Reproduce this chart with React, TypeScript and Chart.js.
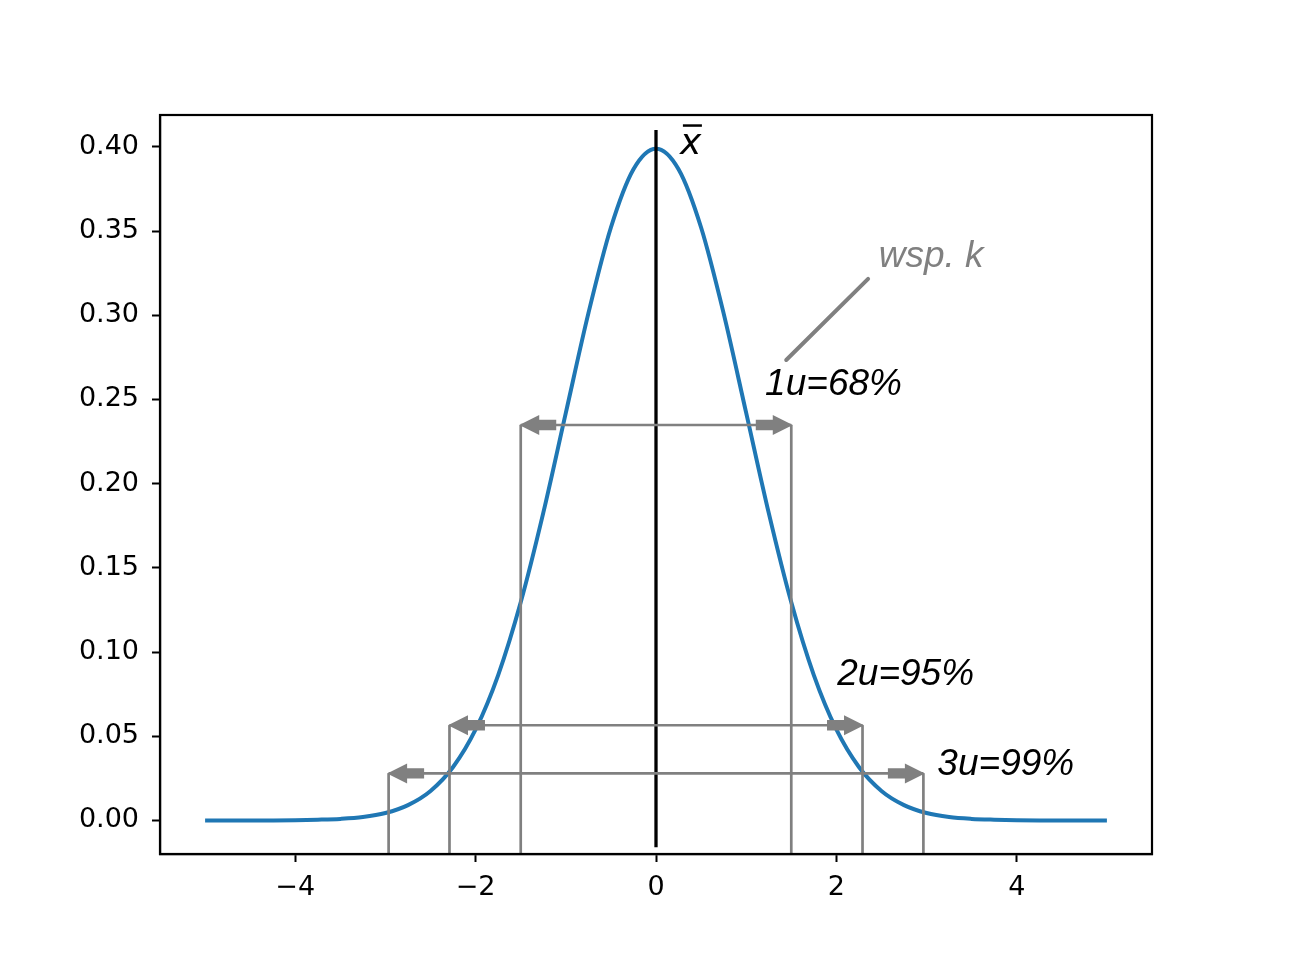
import React, { useEffect, useRef } from "react";
import { Chart, registerables } from "chart.js";

Chart.register(...registerables);

// ---- data ----
const curveX = [
  -5, -4.75, -4.5, -4.25, -4, -3.75, -3.5, -3.25, -3, -2.75, -2.5, -2.25, -2, -1.75, -1.5, -1.25, -1, -0.75, -0.5, -0.25,
  0, 0.25, 0.5, 0.75, 1, 1.25, 1.5, 1.75, 2, 2.25, 2.5, 2.75, 3, 3.25, 3.5, 3.75, 4, 4.25, 4.5, 4.75, 5,
];
const curveY = [
  0.0, 0.0, 0.0, 0.0, 0.0001, 0.0004, 0.0009, 0.002, 0.0044, 0.0091, 0.0175, 0.0317, 0.054, 0.0863, 0.1295, 0.1826, 0.242,
  0.3011, 0.3521, 0.3867, 0.3989, 0.3867, 0.3521, 0.3011, 0.242, 0.1826, 0.1295, 0.0863, 0.054, 0.0317, 0.0175, 0.0091,
  0.0044, 0.002, 0.0009, 0.0004, 0.0001, 0.0, 0.0, 0.0, 0.0,
];
const bandHalfWidths = [1.5, 2.29, 2.965];
const arrowLevels = [0.2348, 0.0565, 0.0279];
const bandLabels = ["1u=68%", "2u=95%", "3u=99%"];
const bandLabelX = [1.21, 2.01, 3.12];
const bandLabelY = [0.2526, 0.0802, 0.0267];
const meanLine = [-0.016, 0.41];
const meanLabel = "x";
const meanLabelPos = [0.265, 0.396];
const noteText = "wsp. k";
const notePos = [2.47, 0.3287];
const noteLineFrom = [2.352, 0.3216];
const noteLineTo = [1.444, 0.2734];
const xTicks = [-4, -2, 0, 2, 4];
const yTicks = [0, 0.05, 0.1, 0.15, 0.2, 0.25, 0.3, 0.35, 0.4];
const xRange = [-5.5, 5.5];
const yRange = [-0.01995, 0.41889];

const GRAY = "#808080";
const BLUE = "#1f77b4";

export default function App() {
  const ref = useRef<HTMLCanvasElement | null>(null);

  useEffect(() => {
    if (!ref.current) return;

    const datasets: any[] = [];
    datasets.push({
      data: curveX.map((x, i) => ({ x, y: curveY[i] })),
      borderColor: BLUE,
      borderWidth: 4,
      pointRadius: 0,
      cubicInterpolationMode: "monotone",
      order: 3,
    });
    datasets.push({
      data: [
        { x: 0, y: meanLine[0] },
        { x: 0, y: meanLine[1] },
      ],
      borderColor: "#000000",
      borderWidth: 3.3,
      pointRadius: 0,
      order: 2,
    });
    bandHalfWidths.forEach((b, i) => {
      const lvl = arrowLevels[i];
      [-b, b].forEach((xv) => {
        datasets.push({
          data: [
            { x: xv, y: yRange[0] },
            { x: xv, y: lvl },
          ],
          borderColor: GRAY,
          borderWidth: 2.7,
          pointRadius: 0,
          order: 1,
        });
      });
      datasets.push({
        data: [
          { x: -b, y: lvl },
          { x: b, y: lvl },
        ],
        borderColor: GRAY,
        borderWidth: 2.7,
        pointRadius: 0,
        order: 1,
      });
    });

    const overlay = {
      id: "overlay",
      afterDatasetsDraw(chart: any) {
        const ctx = chart.ctx;
        const xs = chart.scales.x;
        const ys = chart.scales.y;
        const px = (v: number) => xs.getPixelForValue(v);
        const py = (v: number) => ys.getPixelForValue(v);
        ctx.save();
        // arrows
        ctx.fillStyle = GRAY;
        bandHalfWidths.forEach((b, i) => {
          const y = py(arrowLevels[i]);
          [-1, 1].forEach((dir) => {
            const tip = px(dir * b) + dir * 1.5;
            const hb = tip - dir * 20;
            const se = hb - dir * 17;
            ctx.beginPath();
            ctx.moveTo(tip, y);
            ctx.lineTo(hb, y - 10);
            ctx.lineTo(hb, y - 5.2);
            ctx.lineTo(se, y - 5.2);
            ctx.lineTo(se, y + 5.2);
            ctx.lineTo(hb, y + 5.2);
            ctx.lineTo(hb, y + 10);
            ctx.closePath();
            ctx.fill();
          });
        });
        // band labels
        ctx.textAlign = "left";
        ctx.textBaseline = "alphabetic";
        ctx.font = 'italic 37px "Liberation Sans", Arial, sans-serif';
        ctx.fillStyle = "#000000";
        bandLabels.forEach((t, i) => {
          ctx.fillText(t, px(bandLabelX[i]), py(bandLabelY[i]));
        });
        // note
        ctx.fillStyle = GRAY;
        ctx.fillText(noteText, px(notePos[0]), py(notePos[1]));
        ctx.strokeStyle = GRAY;
        ctx.lineWidth = 4;
        ctx.lineCap = "round";
        ctx.beginPath();
        ctx.moveTo(px(noteLineFrom[0]), py(noteLineFrom[1]));
        ctx.lineTo(px(noteLineTo[0]), py(noteLineTo[1]));
        ctx.stroke();
        // mean label x-bar
        ctx.fillStyle = "#000000";
        ctx.font = 'italic 36px "DejaVu Sans", sans-serif';
        const mx = px(meanLabelPos[0]);
        const my = py(meanLabelPos[1]);
        ctx.fillText(meanLabel, mx, my);
        ctx.strokeStyle = "#000000";
        ctx.lineWidth = 2.5;
        ctx.lineCap = "butt";
        ctx.beginPath();
        ctx.moveTo(mx + 3, my - 28);
        ctx.lineTo(mx + 22, my - 28);
        ctx.stroke();
        // frame
        const a = chart.chartArea;
        ctx.strokeStyle = "#000000";
        ctx.lineWidth = 2.2;
        ctx.strokeRect(a.left, a.top, a.right - a.left, a.bottom - a.top);
        ctx.restore();
      },
    };

    const tickFont = { family: '"DejaVu Sans", sans-serif', size: 27 };

    const chart = new Chart(ref.current, {
      type: "line",
      data: { datasets },
      options: {
        animation: false,
        responsive: false,
        devicePixelRatio: 1,
        layout: { padding: { top: 115, right: 137, left: 0, bottom: 0 } },
        plugins: { legend: { display: false }, tooltip: { enabled: false } },
        scales: {
          x: {
            type: "linear",
            min: xRange[0],
            max: xRange[1],
            afterBuildTicks: (s: any) => {
              s.ticks = xTicks.map((v) => ({ value: v }));
            },
            afterFit: (s: any) => {
              s.height = 106;
            },
            ticks: {
              autoSkip: false,
              maxRotation: 0,
              color: "#000000",
              font: tickFont,
              padding: 10,
              callback: (v: any) => (v < 0 ? "\u2212" + Math.abs(v) : String(v)),
            },
            grid: { drawOnChartArea: false, drawTicks: true, tickLength: 8, tickColor: "#000000", tickWidth: 2 },
            border: { display: true, color: "#000000", width: 2.2 },
          },
          y: {
            type: "linear",
            min: yRange[0],
            max: yRange[1],
            afterBuildTicks: (s: any) => {
              s.ticks = yTicks.map((v) => ({ value: v }));
            },
            afterFit: (s: any) => {
              s.width = 160;
            },
            ticks: {
              autoSkip: false,
              color: "#000000",
              font: tickFont,
              padding: 13,
              callback: (v: any) => Number(v).toFixed(2),
            },
            grid: { drawOnChartArea: false, drawTicks: true, tickLength: 8, tickColor: "#000000", tickWidth: 2 },
            border: { display: true, color: "#000000", width: 2.2 },
          },
        },
      },
      plugins: [overlay],
    });
    return () => chart.destroy();
  }, []);

  return (
    <div style={{ position: "absolute", left: 0, top: 0, width: 1289, height: 960, background: "#ffffff" }}>
      <canvas ref={ref} width={1289} height={960} style={{ display: "block", width: 1289, height: 960 }} />
    </div>
  );
}
